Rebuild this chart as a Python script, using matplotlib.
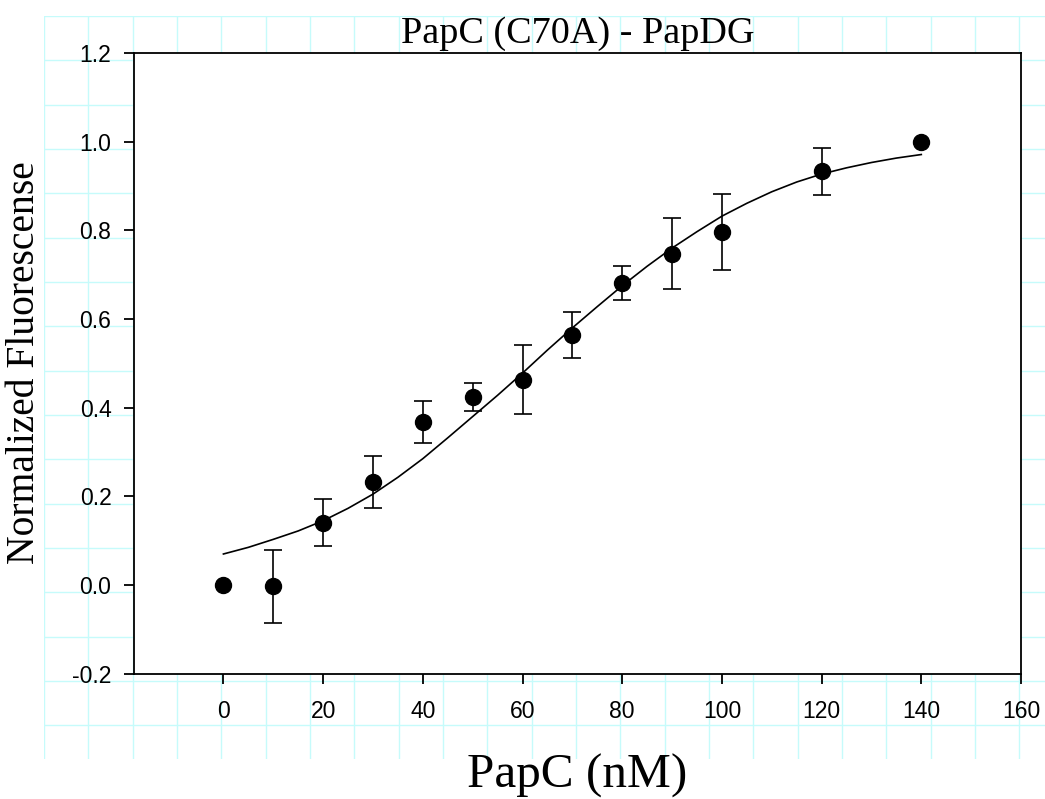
import numpy as np
import matplotlib
matplotlib.use('Agg')
import matplotlib.pyplot as plt
from matplotlib.ticker import MultipleLocator

# measured points
conc = np.array([0, 10, 20, 30, 40, 50, 60, 70, 80, 90, 100, 120, 140])
fluor = np.array([0.0, -0.003, 0.141, 0.232, 0.368, 0.424, 0.463, 0.563,
                  0.681, 0.747, 0.796, 0.933, 1.0])
err = np.array([0.0, 0.082, 0.054, 0.058, 0.047, 0.032, 0.078, 0.052,
                0.039, 0.080, 0.086, 0.053, 0.0])

# fitted curve
fit_x = np.arange(0, 145, 5)
fit_y = np.array([0.070, 0.085, 0.103, 0.122, 0.145, 0.173, 0.205, 0.243,
                  0.285, 0.332, 0.380, 0.428, 0.478, 0.530, 0.580, 0.628,
                  0.675, 0.719, 0.760, 0.797, 0.832, 0.861, 0.887, 0.909,
                  0.927, 0.941, 0.953, 0.963, 0.971])

xticks = [0, 20, 40, 60, 80, 100, 120, 140, 160]
yticks = [-0.2, 0.0, 0.2, 0.4, 0.6, 0.8, 1.0, 1.2]

W, H = 1045, 799
fig = plt.figure(figsize=(W / 100, H / 100), dpi=100)

# graph-paper background
bg = fig.add_axes([44 / W, (H - 759) / H, (W - 44) / W, (759 - 16) / H], zorder=0)
bg.set_xlim(0, W - 44)
bg.set_ylim(759 - 16, 0)
bg.xaxis.set_major_locator(MultipleLocator(44.33))
bg.yaxis.set_major_locator(MultipleLocator(44.33))
bg.grid(True, color='#c6fbfb', linewidth=1.0)
bg.tick_params(length=0, labelbottom=False, labelleft=False)
for s in bg.spines.values():
    s.set_visible(False)
bg.set_facecolor('white')

ax = fig.add_axes([133.7 / W, (H - 673.7) / H, (1021 - 133.7) / W, (673.7 - 53) / H], zorder=1)
ax.set_facecolor('white')

ax.plot(fit_x, fit_y, color='black', linewidth=1.2, zorder=2)
has_err = err > 0
ax.errorbar(conc[has_err], fluor[has_err], yerr=err[has_err], fmt='none',
            ecolor='black', elinewidth=1.2, capsize=6.7, capthick=1.2, zorder=2)
ax.plot(conc, fluor, 'o', color='black', markersize=11.5, zorder=3)

ax.set_xlim(-18, 160)
ax.set_ylim(-0.2, 1.2)
ax.set_xticks(xticks)
ax.set_yticks(yticks)
ax.set_yticklabels(['%.1f' % v for v in yticks])

for s in ax.spines.values():
    s.set_linewidth(1.3)
    s.set_color('black')

ax.tick_params(direction='out', length=7, width=1.3, top=False, right=False,
               labelsize=16.5)
ax.tick_params(axis='y', pad=9)
ax.tick_params(axis='x', pad=12)
for lab in ax.get_xticklabels() + ax.get_yticklabels():
    lab.set_family('Liberation Sans')

ax.set_title('PapC (C70A) - PapDG', family='Liberation Serif', fontsize=27.5, pad=7.2)
ax.set_xlabel('PapC (nM)', family='Liberation Serif', fontsize=35.5)
ax.set_ylabel('Normalized Fluorescense', family='Liberation Serif', fontsize=28.5)
ax.xaxis.set_label_coords(0.5, -0.129)
ax.yaxis.set_label_coords(-0.102, 0.501)

fig.savefig('out.png', dpi=100, facecolor='white')
